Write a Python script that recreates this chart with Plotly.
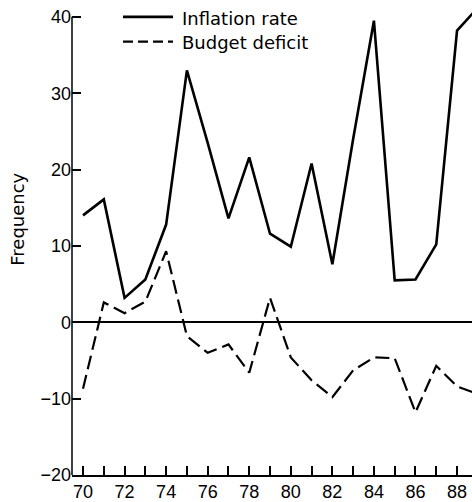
import plotly.graph_objects as go

years = list(range(70, 90))
inflation = [14.0, 16.1, 3.2, 5.6, 12.8, 33.0, 23.5, 13.6, 21.6, 11.6,
             9.9, 20.8, 7.6, 24.0, 39.5, 5.5, 5.6, 10.2, 38.2, 41.2]
budget = [-8.7, 2.6, 1.2, 2.7, 9.3, -1.8, -4.0, -2.9, -6.6, 3.2,
          -4.6, -7.6, -9.8, -6.3, -4.6, -4.7, -11.8, -5.7, -8.4, -9.4]
tick_years = list(range(70, 89))
tick_text = [str(y) if y % 2 == 0 else "" for y in tick_years]
y_ticks = [-20, -10, 0, 10, 20, 30, 40]
series_names = ["Inflation rate", "Budget deficit"]

W, H = 472, 502
ML, MR, MT, MB = 72, 0, 5, 22
PW, PH = W - ML - MR, H - MT - MB

# reference: y=-20 at px 480, y=40 at px 17
unit = (480 - 17) / 60.0
y_top = -20 + PH / unit


def px(xp):
    return (xp - ML) / PW


def py(yp):
    return (H - MB - yp) / PH


fig = go.Figure()
fig.add_trace(go.Scatter(x=years, y=inflation, mode="lines", name=series_names[0],
                         line=dict(color="black", width=2.6), showlegend=False))
fig.add_trace(go.Scatter(x=years, y=budget, mode="lines", name=series_names[1],
                         line=dict(color="black", width=2.2, dash="14px,6px"), showlegend=False))

shapes = [
    dict(type="line", xref="paper", yref="y", x0=0, x1=0, y0=-20, y1=40,
         line=dict(color="black", width=1.5)),
    dict(type="line", xref="paper", yref="paper", x0=px(123), x1=px(173), y0=py(17), y1=py(17),
         line=dict(color="black", width=2.6)),
    dict(type="line", xref="paper", yref="paper", x0=px(123), x1=px(173), y0=py(42), y1=py(42),
         line=dict(color="black", width=2.2, dash="10px,5px")),
]
annotations = [
    dict(text=series_names[0], xref="paper", yref="paper", x=px(180), y=py(19),
         xanchor="left", yanchor="middle", showarrow=False,
         font=dict(family="DejaVu Sans", size=18, color="black")),
    dict(text=series_names[1], xref="paper", yref="paper", x=px(180), y=py(43),
         xanchor="left", yanchor="middle", showarrow=False,
         font=dict(family="DejaVu Sans", size=18, color="black")),
    dict(text="Frequency", xref="paper", yref="paper", x=px(18), y=py(222),
         xanchor="center", yanchor="middle", textangle=-90, showarrow=False,
         font=dict(family="DejaVu Sans", size=18, color="black")),
]

fig.update_layout(
    width=W, height=H,
    margin=dict(l=ML, r=MR, t=MT, b=MB, pad=0),
    paper_bgcolor="white", plot_bgcolor="white",
    shapes=shapes, annotations=annotations,
    xaxis=dict(range=[69.47, 88.72], tickmode="array", tickvals=tick_years, ticktext=tick_text,
               ticks="inside", ticklen=9, tickwidth=1.5, tickcolor="black",
               showline=True, linecolor="black", linewidth=1.5, showgrid=False, zeroline=False,
               tickfont=dict(family="Liberation Sans", size=18, color="black")),
    yaxis=dict(range=[-20, y_top], tickmode="array", tickvals=y_ticks,
               ticktext=[str(v).replace("-", "\u2212") for v in y_ticks],
               ticks="inside", ticklen=9, tickwidth=1.5, tickcolor="black",
               showline=False, showgrid=False,
               zeroline=True, zerolinecolor="black", zerolinewidth=1.5,
               tickfont=dict(family="Liberation Sans", size=18, color="black")),
)

fig.write_html("out.html", config={"displayModeBar": False},
               post_script="document.body.style.margin='0';document.body.style.overflow='hidden';")
